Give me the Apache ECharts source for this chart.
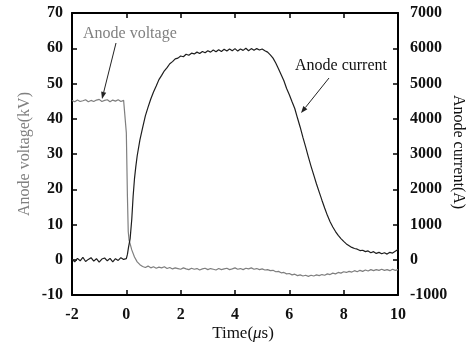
<!DOCTYPE html>
<html><head><meta charset="utf-8">
<script src="https://cdn.jsdelivr.net/npm/echarts@6/dist/echarts.min.js"></script>
<style>html,body{margin:0;padding:0;background:#fff}#c{width:472px;height:344px}</style>
</head><body><div id="c"></div>
<script>
// Anode voltage (kV) vs time (us)
const timeV = [-2.0,-1.9,-1.8,-1.7,-1.6,-1.5,-1.4,-1.3,-1.2,-1.1,-1.0,-0.9,-0.8,-0.7,-0.6,-0.5,-0.4,-0.3,-0.2,-0.1,
  -0.03,0.0,0.04,0.07,0.1,0.15,0.2,0.3,0.4,0.5,
  0.6,0.7,0.8,0.9,1.0,1.1,1.2,1.3,1.4,1.5,1.6,1.7,1.8,1.9,2.0,2.1,2.2,2.3,2.4,2.5,2.6,2.7,2.8,2.9,3.0,
  3.1,3.2,3.3,3.4,3.5,3.6,3.7,3.8,3.9,4.0,4.1,4.2,4.3,4.4,4.5,4.6,4.7,4.8,4.9,5.0,
  5.1,5.2,5.3,5.4,5.5,5.6,5.7,5.8,5.9,6.0,6.1,6.2,6.3,6.4,6.5,6.6,6.7,6.8,6.9,7.0,
  7.1,7.2,7.3,7.4,7.5,7.6,7.7,7.8,7.9,8.0,8.1,8.2,8.3,8.4,8.5,8.6,8.7,8.8,8.9,9.0,
  9.1,9.2,9.3,9.4,9.5,9.6,9.7,9.8,9.9,10.0];
const voltage = [45.2,44.8,45.3,44.9,45.1,45.4,44.8,45.2,44.9,45.3,45.5,44.9,45.2,45.4,44.8,45.3,45.0,45.4,44.9,45.2,
  45.0,36,18,8,5.6,4.2,2.8,0.8,-0.6,-1.4,
  -1.9,-2.2,-1.8,-2.3,-2.0,-2.4,-2.1,-2.3,-2.0,-2.5,-2.2,-2.6,-2.3,-2.5,-2.7,-2.3,-2.6,-2.8,-2.4,-2.7,-2.5,-2.9,-2.6,-2.4,-2.8,
  -2.5,-2.7,-2.9,-2.5,-2.8,-2.6,-2.4,-2.8,-2.6,-2.3,-2.7,-2.5,-2.8,-2.4,-2.6,-2.3,-2.7,-2.5,-2.8,-2.6,
  -2.9,-2.8,-3.1,-3.0,-3.4,-3.3,-3.7,-3.6,-4.0,-3.9,-4.3,-4.1,-4.5,-4.3,-4.6,-4.4,-4.7,-4.4,-4.6,-4.3,
  -4.5,-4.2,-4.4,-4.0,-4.2,-3.8,-4.0,-3.6,-3.8,-3.4,-3.6,-3.3,-3.5,-3.1,-3.4,-3.0,-3.3,-2.9,-3.2,-2.8,
  -3.1,-2.8,-3.0,-2.7,-3.0,-2.8,-3.1,-2.7,-3.0,-2.8];

// Anode current (A) vs time (us)
const timeI = [-2.0,-1.9,-1.8,-1.7,-1.6,-1.5,-1.4,-1.3,-1.2,-1.1,-1.0,-0.9,-0.8,-0.7,-0.6,-0.5,-0.4,-0.3,-0.2,-0.1,
  0.0,0.04,0.08,0.14,0.2,0.25,0.3,0.35,0.4,0.5,
  0.6,0.7,0.8,0.9,1.0,1.1,1.2,1.3,1.4,1.5,1.6,1.7,1.8,1.9,2.0,2.1,2.2,2.3,2.4,2.5,2.6,2.7,2.8,2.9,3.0,
  3.1,3.2,3.3,3.4,3.5,3.6,3.7,3.8,3.9,4.0,4.1,4.2,4.3,4.4,4.5,4.6,4.7,4.8,4.9,5.0,
  5.1,5.2,5.3,5.4,5.5,5.6,5.7,5.8,5.9,6.0,6.1,6.2,6.3,6.4,6.5,6.6,6.7,6.8,6.9,7.0,
  7.1,7.2,7.3,7.4,7.5,7.6,7.7,7.8,7.9,8.0,8.1,8.2,8.3,8.4,8.5,8.6,8.7,8.8,8.9,9.0,
  9.1,9.2,9.3,9.4,9.5,9.6,9.7,9.8,9.9,10.0];
const current = [20,-60,40,-30,70,-50,10,60,-40,30,-70,20,50,-30,40,-60,30,-20,60,10,
  30,150,350,600,1150,1800,2300,2650,2950,3400,
  3750,4080,4330,4560,4760,4930,5110,5230,5360,5450,5560,5620,5700,5720,5780,5760,5830,5800,5860,5840,5890,5850,5910,5870,5930,
  5890,5950,5900,5960,5910,5970,5920,5980,5930,5990,5920,5980,5940,6000,5930,5990,5940,5990,5950,5980,
  5930,5890,5810,5720,5580,5420,5250,5080,4860,4680,4480,4290,4020,3760,3470,3200,2920,2650,2400,2150,
  1920,1690,1470,1260,1080,930,800,690,600,520,450,400,350,320,300,260,270,230,250,200,
  230,180,210,170,200,160,210,190,240,290];

const seriesNames = ['Anode voltage', 'Anode current'];

const zip = (a, b) => a.map((t, i) => [t, b[i]]);
const FONT = 'Liberation Serif, Times New Roman, serif';

const axisCommon = {
  axisLine: { show: true, onZero: false, lineStyle: { color: '#000', width: 2 } },
  axisTick: { show: true, inside: true, length: 5, lineStyle: { color: '#000', width: 1.5 } },
  splitLine: { show: false }
};
const labelStyle = { fontFamily: FONT, fontSize: 16, fontWeight: 'bold', color: '#111', formatter: v => String(v) };

function arrow(x1, y1, x2, y2, color) {
  const dx = x2 - x1, dy = y2 - y1, L = Math.hypot(dx, dy);
  const ux = dx / L, uy = dy / L, hl = 7, hw = 2.6;
  const bx = x2 - ux * hl, by = y2 - uy * hl;
  return [
    { type: 'line', shape: { x1, y1, x2: bx, y2: by }, style: { stroke: color, lineWidth: 1 } },
    { type: 'polygon', shape: { points: [[x2, y2], [bx - uy * hw, by + ux * hw], [bx + uy * hw, by - ux * hw]] }, style: { fill: color } }
  ];
}

const chart = echarts.init(document.getElementById('c'), null, { renderer: 'canvas' });
chart.setOption({
  animation: false,
  backgroundColor: '#fff',
  grid: { left: 72, right: 74, top: 13, bottom: 49, containLabel: false },
  xAxis: [
    Object.assign({ type: 'value', min: -2, max: 10, interval: 2, position: 'bottom',
      axisLabel: Object.assign({ margin: 12 }, labelStyle) }, axisCommon),
    Object.assign({ type: 'value', min: -2, max: 10, interval: 2, position: 'top',
      axisLabel: { show: false } }, axisCommon)
  ],
  yAxis: [
    Object.assign({ type: 'value', min: -10, max: 70, interval: 10, position: 'left',
      axisLabel: Object.assign({ margin: 9 }, labelStyle) }, axisCommon),
    Object.assign({ type: 'value', min: -1000, max: 7000, interval: 1000, position: 'right',
      axisLabel: Object.assign({ margin: 12 }, labelStyle) }, axisCommon)
  ],
  series: [
    { name: seriesNames[0], type: 'line', xAxisIndex: 0, yAxisIndex: 0, showSymbol: false,
      lineStyle: { color: '#7f7f7f', width: 1.2 }, data: zip(timeV, voltage), z: 2 },
    { name: seriesNames[1], type: 'line', xAxisIndex: 0, yAxisIndex: 1, showSymbol: false,
      lineStyle: { color: '#1e1e1e', width: 1.2 }, data: zip(timeI, current), z: 3 }
  ],
  graphic: [
    { type: 'text', x: 25, y: 154, rotation: Math.PI / 2,
      style: { text: 'Anode voltage(kV)', align: 'center', verticalAlign: 'middle', font: '16px ' + FONT, fill: '#808080' } },
    { type: 'text', x: 458, y: 152, rotation: -Math.PI / 2,
      style: { text: 'Anode current(A)', align: 'center', verticalAlign: 'middle', font: '16px ' + FONT, fill: '#111' } },
    { type: 'text', x: 243, y: 334,
      style: { text: 'Time({i|μ}s)', align: 'center', verticalAlign: 'middle', font: '17px ' + FONT, fill: '#111',
        rich: { i: { fontStyle: 'italic', fontFamily: FONT, fontSize: 17, fill: '#111' } } } },
    { type: 'text', x: 83, y: 34,
      style: { text: seriesNames[0], align: 'left', verticalAlign: 'middle', font: '16px ' + FONT, fill: '#808080' } },
    { type: 'text', x: 295, y: 66,
      style: { text: seriesNames[1], align: 'left', verticalAlign: 'middle', font: '16px ' + FONT, fill: '#111' } }
  ].concat(arrow(116, 43, 102, 99, '#222'), arrow(329, 78, 301, 113, '#222'))
});
</script>
</body></html>
